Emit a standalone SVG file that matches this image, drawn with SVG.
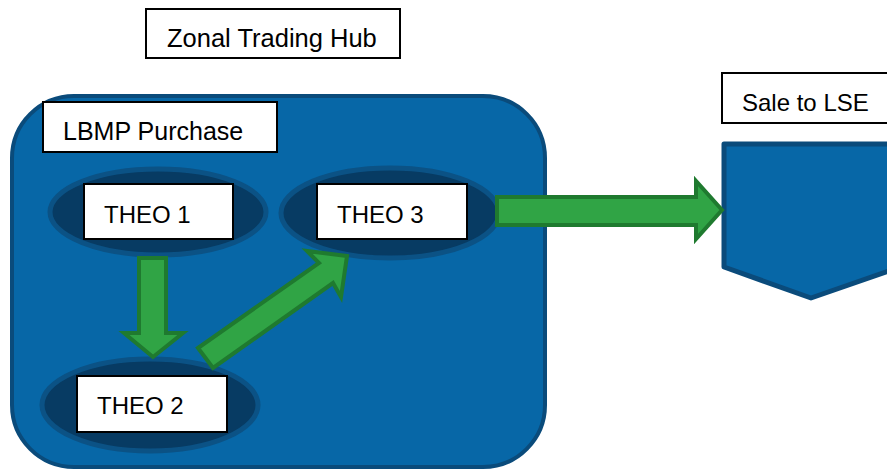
<svg xmlns="http://www.w3.org/2000/svg" width="887" height="470" viewBox="0 0 887 470">
<style>
.label{fill:#ffffff;stroke:#000000;stroke-width:2}
.txt{font-family:"Liberation Sans",Arial,sans-serif;fill:#000000}
.hub{fill:#0767a7;stroke:#0a4b7b;stroke-width:4}
.oval{fill:#073b63;stroke:#0b5285;stroke-width:5}
.arrow{fill:#30a445;stroke:#1f7a2f;stroke-width:4;stroke-linejoin:miter}
</style>
<rect width="887" height="470" fill="#ffffff"/>
<g id="zonal-hub-label">
<rect class="label" x="146" y="9" width="254" height="49"/>
<text class="txt" x="167" y="47" font-size="25.5">Zonal Trading Hub</text>
</g>
<g id="lbmp-purchase">
<rect class="hub" x="12" y="96" width="533" height="371" rx="62" ry="62"/>
<rect class="label" x="43" y="102" width="234" height="50"/>
<text class="txt" x="63" y="140" font-size="25">LBMP Purchase</text>
</g>
<g id="theo1">
<ellipse class="oval" cx="158" cy="212" rx="108" ry="43"/>
<rect class="label" x="84" y="184" width="149" height="55"/>
<text class="txt" x="104" y="223" font-size="24">THEO 1</text>
</g>
<g id="theo3">
<ellipse class="oval" cx="390" cy="213" rx="109" ry="45"/>
<rect class="label" x="317" y="184" width="150" height="55"/>
<text class="txt" x="337" y="223" font-size="24">THEO 3</text>
</g>
<g id="theo2">
<ellipse class="oval" cx="150" cy="405" rx="108" ry="46"/>
<rect class="label" x="77" y="376" width="150" height="56"/>
<text class="txt" x="97" y="414" font-size="24">THEO 2</text>
</g>
<g id="sale-to-lse">
<rect class="label" x="722" y="73" width="170" height="50"/>
<text class="txt" x="742" y="111" font-size="24">Sale to LSE</text>
<polygon points="724,144 900,144 900,267 811,298 724,267" fill="#0767a7" stroke="#0a4b7b" stroke-width="5" stroke-linejoin="round"/>
</g>
<g id="connectors">
<polygon class="arrow" points="139,258 166,258 166,333 183,333 153,357 124,333 139,333"/>
<polygon class="arrow" points="198,348 319,263 307,251 347,256 341,297 333,283 213,368"/>
<polygon class="arrow" points="497,197 696,197 696,181 722,210 696,239 696,225 497,225"/>
</g>
</svg>
